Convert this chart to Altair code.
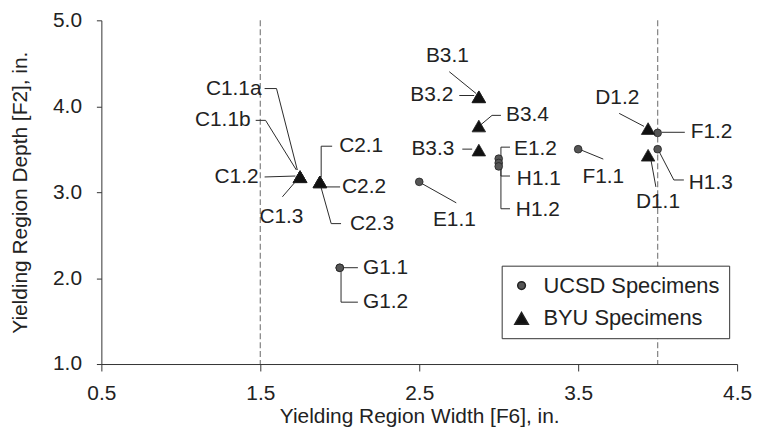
import altair as alt
import pandas as pd

FONT = "Liberation Sans"

# ---- data ----
specimens = ["E1.1", "E1.2", "H1.1", "H1.2", "F1.1", "F1.2", "H1.3", "G1.1", "G1.2",
             "C1.1a", "C1.1b", "C1.2", "C1.3", "C2.1", "C2.2", "C2.3",
             "B3.1", "B3.2", "B3.4", "B3.3", "D1.2", "D1.1"]
widths = [2.5, 3.0, 3.0, 3.0, 3.5, 4.0, 4.0, 2.0, 2.0,
          1.75, 1.75, 1.75, 1.75, 1.875, 1.875, 1.875,
          2.875, 2.875, 2.875, 2.875, 3.94, 3.94]
depths = [3.12, 3.39, 3.34, 3.30, 3.50, 3.69, 3.50, 2.12, 2.12,
          3.18, 3.18, 3.18, 3.18, 3.12, 3.12, 3.12,
          4.11, 4.11, 3.77, 3.49, 3.74, 3.43]
groups = ["UCSD Specimens"] * 9 + ["BYU Specimens"] * 13
group_order = ["UCSD Specimens", "BYU Specimens"]

x_ticks = [0.5, 1.5, 2.5, 3.5, 4.5]
y_ticks = [1.0, 2.0, 3.0, 4.0, 5.0]
limit_widths = [1.5, 4.0]

# ---- annotation placement (data units) ----
label_x = [2.721, 3.096, 3.114, 3.108, 3.658, 4.208, 4.196, 2.146, 2.146,
           1.508, 1.439, 1.489, 1.633, 1.996, 2.014, 2.064,
           2.677, 2.714, 3.046, 2.721, 3.746, 4.002]
label_y = [2.680, 3.501, 3.154, 2.795, 3.177, 3.697, 3.107, 2.121, 1.717,
           4.206, 3.836, 3.177, 2.714, 3.535, 3.061, 2.634,
           4.587, 4.125, 3.894, 3.501, 4.090, 2.888]
label_align = ["center", "left", "left", "left", "center", "left", "left", "left", "left",
               "right", "right", "right", "center", "left", "left", "left",
               "center", "right", "left", "right", "center", "center"]

leader_paths = {
    "E1.1": [(2.521, 3.096), (2.733, 2.876)],
    "E1.2": [(3.071, 3.524), (3.014, 3.524), (3.014, 3.408)],
    "H1.1": [(3.071, 3.188), (3.014, 3.188), (3.014, 3.316)],
    "H1.2": [(3.071, 2.807), (3.014, 2.807), (3.014, 3.293)],
    "F1.1": [(3.521, 3.489), (3.658, 3.385)],
    "F1.2": [(4.027, 3.697), (4.171, 3.697)],
    "H1.3": [(4.165, 3.142), (4.102, 3.142), (4.008, 3.477)],
    "G1.1": [(2.021, 2.121), (2.114, 2.121)],
    "G1.2": [(2.008, 2.075), (2.008, 1.720), (2.114, 1.720)],
    "C1.1a": [(1.527, 4.206), (1.602, 4.206), (1.733, 3.258)],
    "C1.1b": [(1.471, 3.836), (1.533, 3.836), (1.727, 3.258)],
    "C1.2": [(1.527, 3.177), (1.721, 3.188)],
    "C1.3": [(1.639, 2.946), (1.714, 3.107)],
    "C2.1": [(1.952, 3.535), (1.883, 3.535), (1.883, 3.177)],
    "C2.2": [(1.908, 3.061), (2.002, 3.061)],
    "C2.3": [(2.008, 2.634), (1.946, 2.634), (1.883, 3.050)],
    "B3.1": [(2.689, 4.402), (2.858, 4.148)],
    "B3.2": [(2.752, 4.125), (2.846, 4.125)],
    "B3.4": [(3.014, 3.894), (2.958, 3.894), (2.883, 3.778)],
    "B3.3": [(2.771, 3.501), (2.833, 3.501)],
    "D1.2": [(3.758, 3.917), (3.914, 3.766)],
    "D1.1": [(3.989, 3.061), (3.958, 3.374)],
}

points_df = pd.DataFrame({"specimen": specimens, "w": widths, "d": depths, "group": groups})
labels_df = pd.DataFrame({"specimen": specimens, "w": label_x, "d": label_y, "align": label_align})
rows = []
for name, path in leader_paths.items():
    for i, (lx, ly) in enumerate(path):
        rows.append({"specimen": name, "seq": i, "w": lx, "d": ly})
leaders_df = pd.DataFrame(rows)
limits_df = pd.DataFrame({"w": limit_widths})

x_enc = alt.X(
    "w:Q",
    scale=alt.Scale(domain=[0.5, 4.5], nice=False, zero=False),
    axis=alt.Axis(values=x_ticks, format=".1f", tickSize=7, labelPadding=12,
                  labelFlush=False, title="Yielding Region Width [F6], in.",
                  titleY=59, titleBaseline="alphabetic"),
)
y_enc = alt.Y(
    "d:Q",
    scale=alt.Scale(domain=[1, 5], nice=False, zero=False),
    axis=alt.Axis(values=y_ticks, format=".1f", tickSize=5, labelPadding=15,
                  title="Yielding Region Depth [F2], in.", titleX=-75, titleY=173,
                  titleAngle=270, titleBaseline="alphabetic", titleAlign="center"),
)

limits = alt.Chart(limits_df).mark_rule(
    color="#8a8a8a", strokeDash=[6, 3], strokeWidth=1.3
).encode(x=x_enc)

leaders = alt.Chart(leaders_df).mark_line(color="#2a2a2a", strokeWidth=1).encode(
    x=x_enc, y=y_enc, detail="specimen:N", order=alt.Order("seq:Q")
)

points = alt.Chart(points_df).mark_point(
    filled=True, opacity=1, stroke="#222222", strokeWidth=0.8
).encode(
    x=x_enc,
    y=y_enc,
    color=alt.Color("group:N", scale=alt.Scale(domain=group_order, range=["#555555", "#111111"]),
                    legend=alt.Legend(title=None)),
    shape=alt.Shape("group:N", scale=alt.Scale(domain=group_order, range=["circle", "triangle-up"]),
                    legend=alt.Legend(title=None)),
    size=alt.Size("group:N", scale=alt.Scale(domain=group_order, range=[60, 185]),
                  legend=alt.Legend(title=None)),
)

text_layers = []
for a in ["left", "center", "right"]:
    text_layers.append(
        alt.Chart(labels_df).transform_filter(alt.datum.align == a).mark_text(
            align=a, baseline="middle", font=FONT, fontSize=21, color="#222222"
        ).encode(x=x_enc, y=y_enc, text="specimen:N")
    )

chart = alt.layer(limits, leaders, points, *text_layers).properties(
    width=640,
    height=346,
    autosize=alt.AutoSizeParams(type="none"),
    padding={"left": 94, "top": 11, "right": 16, "bottom": 64},
    background="white",
).configure_view(stroke=None).configure_axis(
    grid=False,
    domainColor="#333333",
    tickColor="#333333",
    labelColor="#222222",
    titleColor="#222222",
    labelFont=FONT,
    titleFont=FONT,
    labelFontSize=21,
    titleFontSize=21,
    titleFontWeight="normal",
).configure_legend(
    orient="none",
    legendX=403,
    legendY=247,
    fillColor="white",
    strokeColor="#333333",
    padding=9,
    labelFont=FONT,
    labelFontSize=22,
    labelLimit=400,
    labelColor="#222222",
    rowPadding=11,
    labelOffset=11,
)

chart.save("out.html", embed_options={"renderer": "svg", "actions": False})
